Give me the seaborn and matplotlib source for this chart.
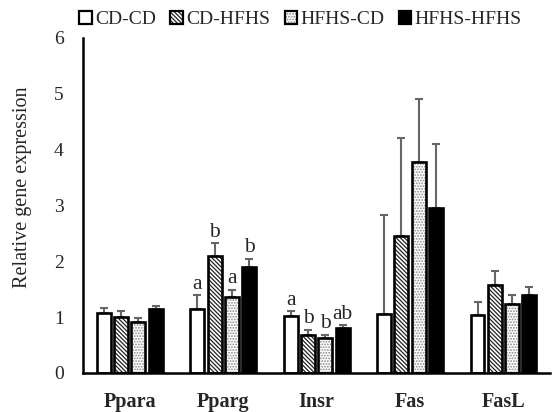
import matplotlib
matplotlib.use("Agg")
import matplotlib.pyplot as plt
import seaborn as sns
import pandas as pd
import numpy as np
from matplotlib.patches import Patch

genes = ["Ppara", "Pparg", "Insr", "Fas", "FasL"]
groups = ["CD-CD", "CD-HFHS", "HFHS-CD", "HFHS-HFHS"]
cd_cd = [1.07, 1.15, 1.01, 1.06, 1.03]
cd_hfhs = [1.00, 2.10, 0.68, 2.45, 1.58]
hfhs_cd = [0.92, 1.36, 0.63, 3.77, 1.24]
hfhs_hfhs = [1.14, 1.90, 0.81, 2.96, 1.40]
err_cd_cd = [0.09, 0.24, 0.09, 1.76, 0.24]
err_cd_hfhs = [0.10, 0.22, 0.09, 1.76, 0.24]
err_hfhs_cd = [0.06, 0.13, 0.05, 1.14, 0.15]
err_hfhs_hfhs = [0.06, 0.14, 0.04, 1.14, 0.14]
letters_cd_cd = ["", "a", "a", "", ""]
letters_cd_hfhs = ["", "b", "b", "", ""]
letters_hfhs_cd = ["", "a", "b", "", ""]
letters_hfhs_hfhs = ["", "b", "ab", "", ""]

values = [cd_cd, cd_hfhs, hfhs_cd, hfhs_hfhs]
errors = [err_cd_cd, err_cd_hfhs, err_hfhs_cd, err_hfhs_hfhs]
letters = [letters_cd_cd, letters_cd_hfhs, letters_hfhs_cd, letters_hfhs_hfhs]

rows = []
for g, vals in zip(groups, values):
    for gene, v in zip(genes, vals):
        rows.append({"gene": gene, "group": g, "value": v})
df = pd.DataFrame(rows)

sns.set_style("white")
plt.rcParams["font.family"] = ["Liberation Serif", "DejaVu Serif"]
plt.rcParams["hatch.linewidth"] = 0.9

fig = plt.figure(figsize=(5.54, 4.12), dpi=100)
ax = fig.add_axes([0.15, 0.095, 0.843, 0.813])

faces = ["white", "white", "white", "black"]
hatches = [None, "\\\\\\\\\\\\\\\\", "......", None]
hatch_colors = ["black", "#222222", "#8a8a8a", "black"]

sns.barplot(data=df, x="gene", y="value", hue="group", order=genes,
            hue_order=groups, errorbar=None, width=0.74, gap=0.19,
            palette=faces, edgecolor="black", linewidth=1.9, ax=ax,
            legend=False)

bar_containers = list(ax.containers)
for i, cont in enumerate(bar_containers):
    for j, patch in enumerate(cont.patches):
        patch.set_facecolor(faces[i])
        patch.set_edgecolor("black")
        patch.set_zorder(2)
        if hatches[i]:
            patch.set_hatch(hatches[i])
            patch._hatch_color = matplotlib.colors.to_rgba(hatch_colors[i])
        x = patch.get_x() + patch.get_width() / 2
        h = patch.get_height()
        e = errors[i][j]
        ax.errorbar(x, h, yerr=[[0], [e]], fmt="none", ecolor="#666666",
                    elinewidth=1.5, capsize=3, capthick=1.5, zorder=1)
        lab = letters[i][j]
        if lab:
            ax.text(x, h + e + 0.03, lab, ha="center", va="bottom",
                    fontsize=15.5)

ax.set_ylim(0, 6)
ax.set_xlim(-0.5, 4.5)
ax.set_yticks(range(0, 7))
ax.tick_params(axis="both", length=0)
ax.tick_params(axis="y", labelsize=14, pad=14)
ax.tick_params(axis="x", labelsize=14.5, pad=14)
for t in ax.get_xticklabels():
    t.set_fontweight("bold")
ax.set_xlabel("")
ax.set_ylabel("Relative gene expression", fontsize=14.5)
ax.yaxis.set_label_coords(-0.11, 0.555)
for s in ["top", "right"]:
    ax.spines[s].set_visible(False)
for s in ["left", "bottom"]:
    ax.spines[s].set_color("black")
    ax.spines[s].set_linewidth(1.8)

handles = []
for i, g in enumerate(groups):
    p = Patch(facecolor=faces[i], edgecolor="black", linewidth=1.6,
              hatch=hatches[i], label=g)
    handles.append(p)
leg = fig.legend(handles=handles, loc="upper left", bbox_to_anchor=(0.124, 1.0),
                 ncol=4, frameon=False, fontsize=14, handlelength=0.65,
                 handleheight=0.65, handletextpad=0.15, columnspacing=0.75,
                 borderaxespad=0.15)
for i, p in enumerate(leg.get_patches()):
    if hatches[i]:
        p._hatch_color = matplotlib.colors.to_rgba(hatch_colors[i])

fig.savefig("out.png", dpi=100)
